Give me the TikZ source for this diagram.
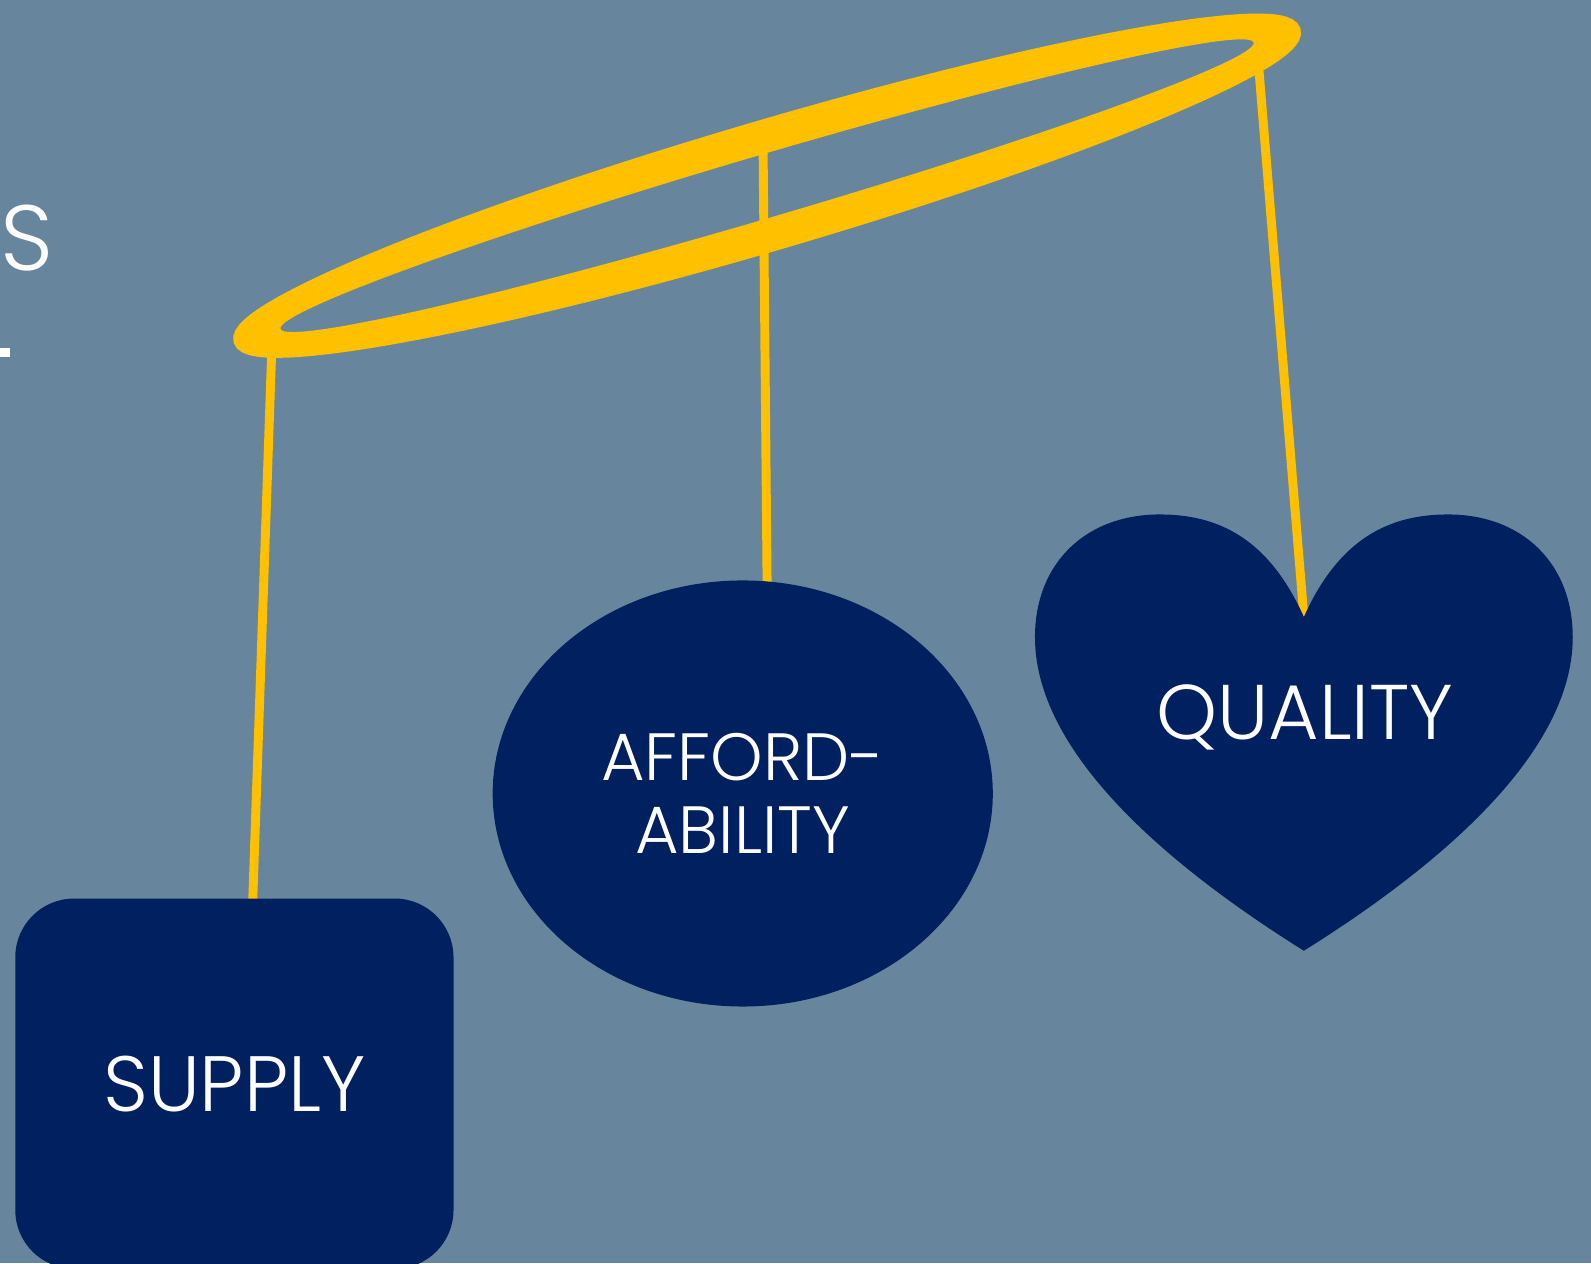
\documentclass[tikz,border=0pt]{standalone}
\usepackage{fontspec}
\setmainfont{Poppins Light}
\usetikzlibrary{shapes.geometric}
\definecolor{slate}{RGB}{103,134,158}
\definecolor{navy}{RGB}{0,32,96}
\definecolor{gold}{RGB}{255,192,0}

\begin{document}
\begin{tikzpicture}[x=0.02cm, y=-0.02cm]
        \tikzset{cord/.style = {draw=gold, line width=5pt}}
        \tikzset{tag/.style = {fill=navy, text=white, inner sep=0pt, font=\fontsize{44}{50}\selectfont}}
        \useasboundingbox (0,0) rectangle (1568,1245);
        \fill[slate] (0,0) rectangle (1568,1245);

        % title remnant at the left edge
        \node[text=white, font=\fontsize{52}{60}\selectfont, inner sep=0pt] (cutS) at (27,235) {S};
        \fill[white] (0,343) rectangle (10,352);

        % the halo
        \begin{scope}[shift={(756,183)}, rotate=16.4]
        \fill[gold, even odd rule] (0,0) ellipse [x radius=10.8cm, y radius=1.12cm]
              (0,0) ellipse [x radius=10cm, y radius=0.62cm];
        \draw[gold, line width=0.32cm] (0,0) ellipse [x radius=10.8cm, y radius=1.12cm];
        \end{scope}

        \coordinate (ringL) at (268,340);
        \coordinate (ringM) at (752,140);
        \coordinate (ringR) at (1240,60);
        \coordinate (hookS) at (249,890);
        \coordinate (hookA) at (756,574);
        \coordinate (notch) at (1285,608);

        \draw[cord] (ringL) to (hookS);
        \draw[cord] (ringM) to (hookA);
        \draw[cord] (ringR) to (notch);

        \node[tag, rectangle, rounded corners=1.16cm, minimum width=8.64cm, minimum height=7.3cm] (supply) at (231,1068) {SUPPLY};
        \node[tag, ellipse, minimum width=9.86cm, minimum height=8.4cm, align=center,
              font=\fontsize{37.5}{44}\selectfont] (afford) at (732,782) {\raisebox{-0.1cm}{AFFORD-}\\ABILITY};

        \fill[navy] (notch) .. controls (1250,530) and (1200,507) .. (1143,507)
              .. controls (1070,507) and (1020,555) .. (1020,628)
              .. controls (1020,750) and (1170,865) .. (1285,937)
              .. controls (1400,865) and (1550,750) .. (1550,628)
              .. controls (1550,555) and (1500,507) .. (1427,507)
              .. controls (1370,507) and (1320,530) .. (notch) -- cycle;
        \node[text=white, inner sep=0pt, font=\fontsize{43.5}{48}\selectfont] (quality) at (1286,707) {QUALITY};
\end{tikzpicture}
\end{document}
